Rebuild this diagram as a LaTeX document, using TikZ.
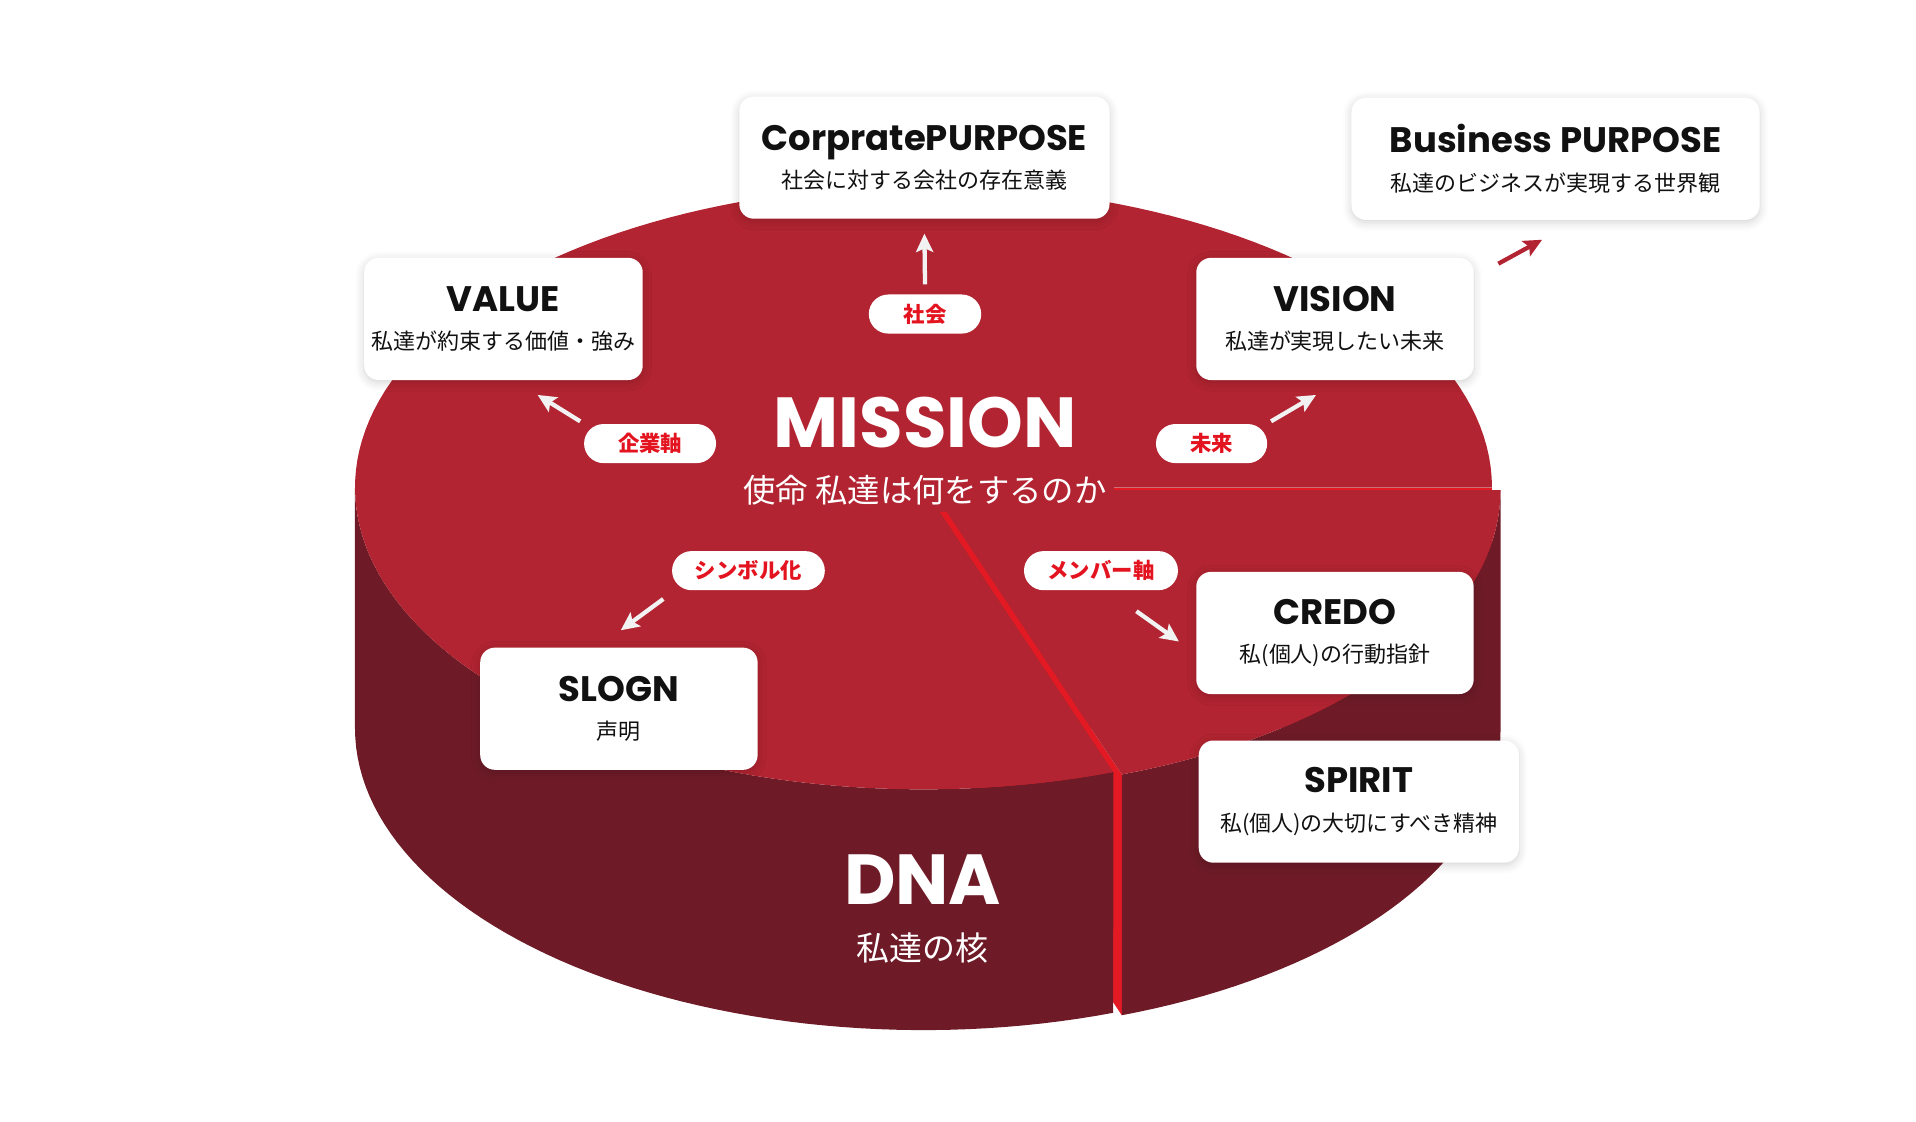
\documentclass[tikz,border=0pt]{standalone}
\usepackage{fontspec}
\setmainfont{Poppins}
\newfontfamily\jpfont{Noto Sans CJK JP}
\usetikzlibrary{arrows.meta,calc,shadows.blur}
\definecolor{dnaTop}{HTML}{B22431}
\definecolor{dnaSide}{HTML}{6E1B27}
\definecolor{dnaCut}{HTML}{E31A24}
\definecolor{dnaLabel}{HTML}{E3141F}
\definecolor{dnaArrow}{HTML}{F2F2F2}
\definecolor{dnaInk}{HTML}{111111}
\newcommand\cardtitle[1]{{\rmfamily\bfseries\fontsize{29}{31.5}\selectfont #1}}
\tikzset{
  card/.style={
    fill=white, rounded corners=12pt, minimum width=#1, minimum height=100pt,
    align=center, inner sep=0pt, text=dnaInk,
    font=\jpfont\fontsize{18}{31.5}\selectfont,
    blur shadow={shadow blur radius=7pt, shadow xshift=0pt, shadow yshift=-2pt, shadow opacity=18}},
  card/.default=228pt,
  pill/.style={
    fill=white, rounded corners=16pt, minimum width=#1, minimum height=32pt,
    inner sep=0pt, text=dnaLabel, font=\jpfont\bfseries\fontsize{17.5}{20}\selectfont},
  pill/.default=92pt,
  bigword/.style={text=white, inner sep=0pt, font=\bfseries\fontsize{58}{58}\selectfont},
  bigsub/.style={text=white, font=\jpfont\fontsize{#1}{#1}\selectfont},
  wharrow/.style={draw=dnaArrow, line width=3.5pt, -{Stealth[length=15pt,width=14pt,inset=3pt]}},
  redarrow/.style={draw=dnaTop, line width=3.5pt, -{Stealth[length=15pt,width=14pt,inset=3pt]}},
}
\begin{document}
\begin{tikzpicture}[x=1pt,y=-1pt]
\useasboundingbox (0,0) rectangle (1568,918);

\def\pX{755.75} \def\pY{399} \def\pRx{465.25} \def\pRy{247} \def\pH{197} \def\pCut{70.5}
\def\wX{762.75} \def\wY{401}

% the cylinder, with the slice pulled out a little
\fill[dnaCut] (\pX,\pY) rectangle (\pX+\pRx,\pY+\pH);
\fill[dnaCut] (\wX,\wY) -- ({\wX+\pRx*cos(\pCut)},{\wY+\pRy*sin(\pCut)}) -- ++(0,\pH) -- (\wX,\wY+\pH) -- cycle;
\fill[dnaSide] plot[domain=0:\pCut,samples=40,variable=\a] ({\wX+\pRx*cos(\a)},{\wY+\pRy*sin(\a)})
  -- plot[domain=\pCut:0,samples=40,variable=\a] ({\wX+\pRx*cos(\a)},{\wY+\pH+\pRy*sin(\a)}) -- cycle;
\fill[dnaTop] (\wX,\wY) -- plot[domain=0:\pCut,samples=40,variable=\a] ({\wX+\pRx*cos(\a)},{\wY+\pRy*sin(\a)}) -- cycle;
\fill[dnaSide] plot[domain=\pCut:180,samples=60,variable=\a] ({\pX+\pRx*cos(\a)},{\pY+\pRy*sin(\a)})
  -- plot[domain=180:\pCut,samples=60,variable=\a] ({\pX+\pRx*cos(\a)},{\pY+\pH+\pRy*sin(\a)}) -- cycle;
\fill[dnaTop] (\pX,\pY) -- plot[domain=\pCut:360,samples=150,variable=\a] ({\pX+\pRx*cos(\a)},{\pY+\pRy*sin(\a)}) -- cycle;

\node[bigword] (mission) at (757,346) {MISSION};
\node[bigsub=26.5, fill=dnaTop, inner sep=6pt] (missionSub) at (757,401) {使命 私達は何をするのか};
\node[bigword] (dna) at (755,720) {DNA};
\node[bigsub=27, inner sep=0pt] (dnaSub) at (755,776) {私達の核};

\node[card=303pt] (corp) at (756.5,129) {\cardtitle{CorpratePURPOSE}\\社会に対する会社の存在意義};
\node[card=334pt] (biz) at (1273,130) {\cardtitle{Business PURPOSE}\\私達のビジネスが実現する世界観};
\node[card] (value) at (412,261) {\cardtitle{VALUE}\\私達が約束する価値・強み};
\node[card=227pt] (vision) at (1092.5,261) {\cardtitle{VISION}\\私達が実現したい未来};
\node[card=227pt] (slogn) at (506.5,580) {\cardtitle{SLOGN}\\声明};
\node[card=227pt] (credo) at (1092.5,518) {\cardtitle{CREDO}\\私(個人)の行動指針};
\node[card=262pt] (spirit) at (1112,656) {\cardtitle{SPIRIT}\\私(個人)の大切にすべき精神};

\node[pill] (pShakai) at (757,257) {社会};
\node[pill=108pt] (pKigyo) at (532,363) {企業軸};
\node[pill=91pt] (pMirai) at (991.5,363) {未来};
\node[pill=125pt] (pSymbol) at (612.5,467) {シンボル化};
\node[pill=126pt] (pMember) at (901,467) {メンバー軸};

\draw[wharrow] ($(pShakai.north)+(0,-8)$) -- ($(corp.south)+(0,12)$);
\draw[wharrow] ($(pKigyo.north west)+(-3,-2)$) -- ($(value.south)+(28,12)$);
\draw[wharrow] ($(pMirai.north east)+(3,-2)$) -- ($(vision.south)+(-15.5,12)$);
\draw[wharrow] ($(pSymbol.south west)+(-7,7)$) -- ($(slogn.north)+(1.5,-14)$);
\draw[wharrow] ($(pMember.south)+(29,17)$) -- ($(credo.west)+(-14,7)$);
\draw[redarrow] ($(vision.north east)+(20,5)$) -- ($(biz.south)+(-11,16)$);

\end{tikzpicture}
\end{document}
